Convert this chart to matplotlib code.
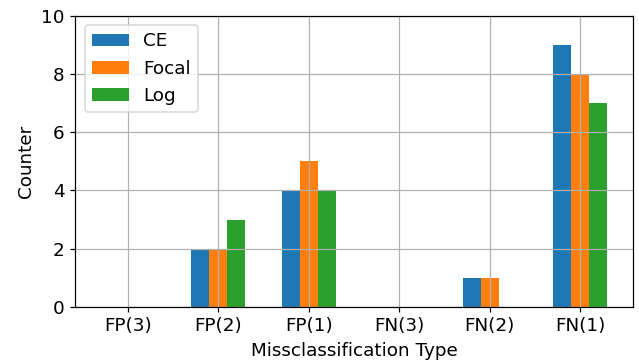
import matplotlib
matplotlib.use("Agg")
import matplotlib.pyplot as plt
import numpy as np

types = ["FP(3)", "FP(2)", "FP(1)", "FN(3)", "FN(2)", "FN(1)"]
ce = [0, 2, 4, 0, 1, 9]
focal = [0, 2, 5, 0, 1, 8]
log = [0, 3, 4, 0, 0, 7]

plt.rcParams["font.size"] = 12

x = np.arange(len(types))
w = 0.2

fig, ax = plt.subplots(figsize=(639 / 110, 363 / 110), dpi=110)
ax.bar(x - w, ce, w, label="CE")
ax.bar(x, focal, w, label="Focal")
ax.bar(x + w, log, w, label="Log")
ax.set_xticks(x)
ax.set_xticklabels(types)
ax.set_ylim(0, 10)
ax.set_xlabel("Missclassification Type")
ax.set_ylabel("Counter")
ax.grid(True)
ax.legend(loc="upper left")
fig.subplots_adjust(left=0.118, right=0.99, top=0.956, bottom=0.155)
fig.savefig("out.png", dpi=110)
